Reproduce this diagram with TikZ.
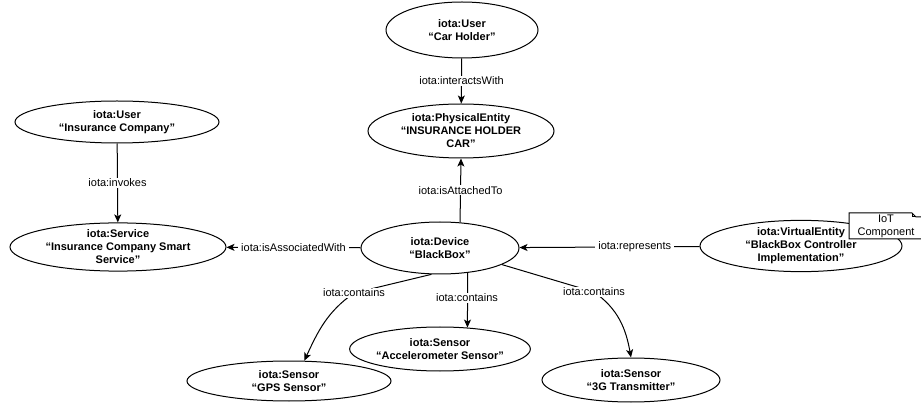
\documentclass[tikz,border=0pt]{standalone}
\usepackage{fontspec}
\setmainfont{Liberation Sans}
\usetikzlibrary{shapes.geometric,arrows.meta}
\tikzset{
	entity/.style={draw, ellipse, line width=1pt, inner sep=0pt, fill=white, align=center, font=\bfseries\fontsize{11}{13}\selectfont},
	rel/.style={line width=1pt, -{Stealth[length=8pt, width=7pt, inset=2pt]}},
	lbl/.style={fill=white, inner xsep=3pt, inner ysep=1pt, font=\fontsize{11}{13}\selectfont},
}

\begin{document}
\begin{tikzpicture}[x=1pt, y=1pt]
			%%%%% START %%%%%
			\useasboundingbox (0,0) rectangle (921,-403);
			
			\node[entity, minimum width=152, minimum height=56] (carholder) at (462,-30) {iota:User\\“Car Holder”};
			\node[entity, minimum width=186, minimum height=54] (physent) at (461,-131) {iota:PhysicalEntity\\“INSURANCE HOLDER\\CAR”};
			\node[entity, minimum width=204, minimum height=42] (insco) at (117,-122) {iota:User\\“Insurance Company”};
			\node[entity, minimum width=216, minimum height=46] (service) at (118,-247) {iota:Service\\“Insurance Company Smart\\Service”};
			\node[entity, minimum width=158, minimum height=52] (device) at (440,-248) {iota:Device\\“BlackBox”};
			\node[entity, minimum width=202, minimum height=48] (virtent) at (801,-246) {iota:VirtualEntity\\“BlackBox Controller\\Implementation”};
			\node[entity, minimum width=204, minimum height=40] (gps) at (289,-381) {iota:Sensor\\“GPS Sensor”};
			\node[entity, minimum width=146, minimum height=44] (accel) at (440,-349) {iota:Sensor\\“Accelerometer Sensor”};
			\node[entity, minimum width=178, minimum height=44] (trans) at (631,-380) {iota:Sensor\\“3G Transmitter”};
			
			% note on the virtual entity
			\draw[line width=1pt, fill=white] (849,-213) -- (912,-213) -- (916,-217) -- (930,-217) -- (930,-239) -- (849,-239) -- cycle;
			\draw[line width=1pt] (912,-213) -- (912,-217) -- (916,-217);
			\node[align=center, font=\fontsize{11}{13}\selectfont] (note) at (886,-226) {IoT\\Component};
			
			\draw[rel] (carholder) -- node[lbl] {iota:interactsWith} (physent);
			\draw[rel] (insco) -- node[lbl] {iota:invokes} (service);
			\draw[rel] (device.52) -- node[lbl] {iota:isAttachedTo} (physent.south);
			\draw[rel] (device) -- node[lbl] {iota:isAssociatedWith} (service);
			\draw[rel] (virtent) -- node[lbl, pos=0.36] {iota:represents} (device);
			
			\coordinate (cgps) at (354,-293);
			\coordinate (caccel) at (467,-298);
			\coordinate (ctrans) at (594,-292);
			\draw[rel] (device.252) -- (cgps) to[out=215, in=65] (gps.53);
			\draw[rel] (device.318) -- (accel.38);
			\draw[rel] (device.345) -- (ctrans) to[out=-35, in=100] (trans.north);
			\node[lbl] at (cgps) {iota:contains};
			\node[lbl] at (caccel) {iota:contains};
			\node[lbl] at (ctrans) {iota:contains};
			
			%%%%% END %%%%%
\end{tikzpicture}
\end{document}
